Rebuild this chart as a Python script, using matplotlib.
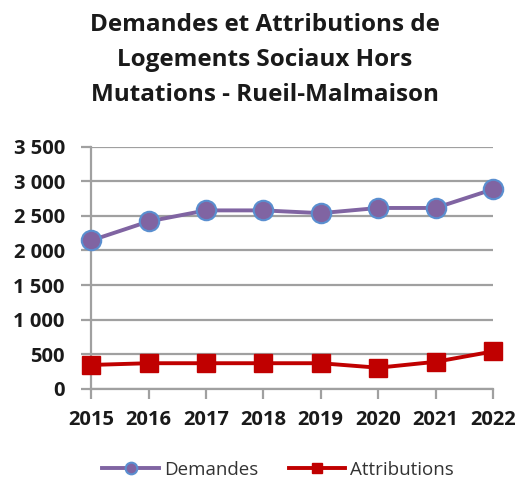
import matplotlib
matplotlib.use("Agg")
import matplotlib.pyplot as plt
from matplotlib.ticker import FuncFormatter

years = [2015, 2016, 2017, 2018, 2019, 2020, 2021, 2022]
demandes = [2145, 2420, 2580, 2580, 2540, 2615, 2615, 2885]
attributions = [345, 370, 370, 370, 370, 305, 390, 540]

yticks = [0, 500, 1000, 1500, 2000, 2500, 3000, 3500]

title = "Demandes et Attributions de\nLogements Sociaux Hors\nMutations - Rueil-Malmaison"

plt.rcParams["font.family"] = ["Open Sans", "DejaVu Sans"]

fig = plt.figure(figsize=(5.3, 4.86), dpi=100)
ax = fig.add_axes([0.172, 0.2, 0.758, 0.498])

grid_col = "#a0a0a0"

ax.plot(years, demandes, color="#8064a2", lw=2.8, marker="o", ms=14,
        mfc="#8064a2", mec="#5a8fd0", mew=1.5, label="Demandes", zorder=4,
        clip_on=False)
ax.plot(years, attributions, color="#c00000", lw=2.8, marker="s", ms=13,
        mfc="#c00000", mec="#c00000", label="Attributions", zorder=4,
        clip_on=False)

ax.set_xlim(years[0], years[-1])
ax.set_ylim(0, 3500)
ax.set_xticks(years)
ax.set_yticks(yticks)
ax.yaxis.set_major_formatter(FuncFormatter(lambda v, p: f"{int(v):,}".replace(",", " ")))
ax.grid(axis="y", color=grid_col, lw=1.6)
ax.set_axisbelow(True)

for s in ["top", "right"]:
    ax.spines[s].set_visible(False)
for s in ["left", "bottom"]:
    ax.spines[s].set_color(grid_col)
    ax.spines[s].set_linewidth(1.6)
ax.tick_params(axis="both", colors=grid_col, width=1.6, length=7)
ax.tick_params(axis="y", pad=12)
ax.tick_params(axis="x", pad=8)
for lbl in ax.get_xticklabels() + ax.get_yticklabels():
    lbl.set_color("#1a1a1a")
    lbl.set_fontsize(14.5)
    lbl.set_fontweight("bold")

fig.text(0.5, 0.974, title, ha="center", va="top", fontsize=17.5,
         fontweight="bold", color="#1a1a1a", linespacing=1.62)

leg = fig.legend(loc="center", bbox_to_anchor=(0.525, 0.033), ncol=2,
                 frameon=False, fontsize=13.5, handlelength=3.0,
                 columnspacing=1.6, handletextpad=0.3, markerscale=0.6)
for t in leg.get_texts():
    t.set_color("#333333")

fig.savefig("out.png", dpi=100)
